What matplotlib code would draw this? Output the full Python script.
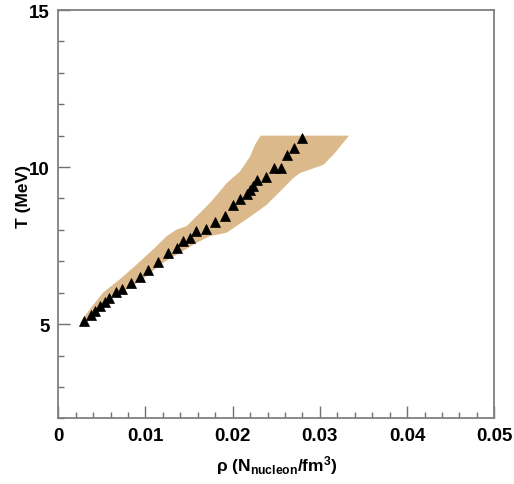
import matplotlib
matplotlib.use("Agg")
import matplotlib.pyplot as plt
from matplotlib.ticker import MultipleLocator, FixedLocator

plt.rcParams['font.family'] = ['Liberation Sans', 'DejaVu Sans']
plt.rcParams['mathtext.fontset'] = 'custom'
plt.rcParams['mathtext.rm'] = 'Liberation Sans:bold'
plt.rcParams['mathtext.it'] = 'Liberation Sans:bold'
plt.rcParams['mathtext.bf'] = 'Liberation Sans:bold'

# Extracted (density, temperature) points
rho = [0.00295, 0.00372, 0.00421, 0.00478, 0.00536, 0.00585, 0.00662, 0.00727,
       0.00830, 0.00937, 0.01032, 0.01147, 0.01255, 0.01365, 0.01433, 0.01510,
       0.01579, 0.01690, 0.01800, 0.01912, 0.02007, 0.02084, 0.02167, 0.02198,
       0.02236, 0.02275, 0.02382, 0.02477, 0.02554, 0.02626, 0.02706, 0.02791]
temp = [5.09, 5.29, 5.42, 5.58, 5.71, 5.82, 6.02, 6.13,
        6.32, 6.50, 6.72, 6.97, 7.26, 7.43, 7.64, 7.75,
        7.96, 8.03, 8.26, 8.45, 8.80, 8.98, 9.15, 9.28,
        9.41, 9.60, 9.68, 9.97, 9.97, 10.39, 10.60, 10.92]

# Uncertainty band: upper-left edge (low density side), bottom to top
band_hi_rho = [0.00249, 0.00364, 0.00516, 0.00708, 0.00899, 0.01089, 0.01243,
               0.01358, 0.01472, 0.01625, 0.01740, 0.01854, 0.01931, 0.02084,
               0.02198, 0.02256, 0.02320]
band_hi_T = [5.05, 5.48, 6.01, 6.43, 6.90, 7.38, 7.80,
             8.01, 8.12, 8.54, 8.86, 9.23, 9.49, 9.86,
             10.33, 10.71, 11.00]
# lower-right edge (high density side), top to bottom
band_lo_rho = [0.03334, 0.03154, 0.03039, 0.02772, 0.02695, 0.02542, 0.02390,
               0.02236, 0.02122, 0.01931, 0.01740, 0.01587, 0.01396, 0.01204,
               0.01014, 0.00822, 0.00631, 0.00440, 0.00287]
band_lo_T = [11.00, 10.39, 10.07, 9.81, 9.65, 9.22, 8.80,
             8.49, 8.27, 7.91, 7.80, 7.59, 7.27, 6.96,
             6.53, 6.16, 5.90, 5.37, 4.95]

x_major = [0, 0.01, 0.02, 0.03, 0.04, 0.05]
x_labels = ['0', '0.01', '0.02', '0.03', '0.04', '0.05']
y_major = [5, 10, 15]

fig = plt.figure(figsize=(5.14, 4.85), dpi=100)
ax = fig.add_axes([0.1134, 0.1354, 0.8483, 0.8419])

ax.fill(band_hi_rho + band_lo_rho, band_hi_T + band_lo_T,
        color='#dcb98a', lw=0, zorder=1)
ax.plot(rho, temp, linestyle='none', marker='^', ms=7.5, color='black',
        markeredgewidth=0.5, zorder=3)

ax.set_xlim(0, 0.05)
ax.set_ylim(2, 15)

ax.xaxis.set_major_locator(FixedLocator(x_major))
ax.set_xticklabels(x_labels)
ax.xaxis.set_minor_locator(MultipleLocator(0.002))
ax.yaxis.set_major_locator(FixedLocator(y_major))
ax.yaxis.set_minor_locator(MultipleLocator(1))

ax.tick_params(which='both', direction='in', color='#707070', top=False, right=False)
ax.tick_params(which='major', length=8.5, width=1.0, labelsize=13.5, pad=6)
ax.tick_params(which='minor', length=4.5, width=1.0)
for lab in ax.get_xticklabels() + ax.get_yticklabels():
    lab.set_fontweight('bold')

for sp in ax.spines.values():
    sp.set_color('#808080')
    sp.set_linewidth(1.3)

ax.set_xlabel(r'ρ (N$_{nucleon}$/fm$^{3}$)', fontsize=12.5, fontweight='bold')
ax.set_ylabel('T (MeV)', fontsize=12.5, fontweight='bold')
ax.xaxis.set_label_coords(0.5, -0.085)
ax.xaxis.label.set_va('top')
ax.yaxis.set_label_coords(-0.062, 0.545)

fig.savefig('out.png', dpi=100, facecolor='white')
